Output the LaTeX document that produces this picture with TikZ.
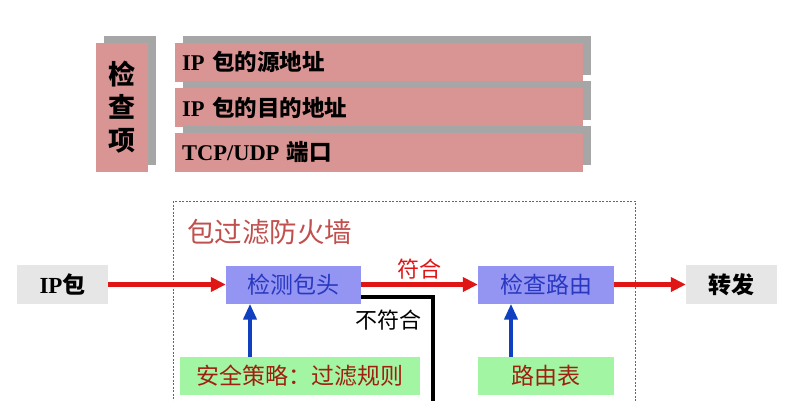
\documentclass[tikz,border=0pt]{standalone}
\usepackage{fontspec}
\setmainfont{Liberation Serif}
\newfontfamily\cjk{Noto Sans CJK SC}
\usetikzlibrary{arrows.meta,shadows}
\definecolor{pinkbox}{HTML}{D99594}
\definecolor{shadowgray}{HTML}{A6A6A6}
\definecolor{bluebox}{HTML}{9494F2}
\definecolor{greenbox}{HTML}{A2F5A2}
\definecolor{graybox}{HTML}{E6E6E6}
\definecolor{arrred}{HTML}{E01515}
\definecolor{arrblue}{HTML}{1040C0}
\definecolor{titlered}{HTML}{C0504D}
\definecolor{bluetext}{HTML}{2838C0}
\definecolor{darkred}{HTML}{A02010}
\tikzset{
  shbox/.style={fill=pinkbox, draw=none, drop shadow={shadow xshift=8pt, shadow yshift=7pt, fill=shadowgray, opacity=1}},
  rowbox/.style={shbox, minimum height=39pt, text width=394pt, inner xsep=7pt, align=left, anchor=center, font=\bfseries\fontsize{22.5}{24}\selectfont},
  procbox/.style={fill=bluebox, minimum height=38pt, inner sep=0pt, text=bluetext, font=\cjk\fontsize{23}{25}\selectfont},
  tblbox/.style={fill=greenbox, minimum height=38pt, inner sep=0pt, text=darkred, font=\cjk\fontsize{23}{25}\selectfont},
  endbox/.style={fill=graybox, minimum height=39pt, minimum width=91pt, inner sep=0pt, font=\fontsize{23}{25}\selectfont},
  redarrow/.style={draw=arrred, line width=4.5pt, -{Triangle[length=15pt,width=14pt]}},
  bluearrow/.style={draw=arrblue, line width=4pt, -{Triangle[length=16pt,width=13pt]}},
}
\begin{document}
\begin{tikzpicture}[x=1pt,y=-1pt]
\useasboundingbox (0,0) rectangle (795,400);
\clip (0,0) rectangle (795,400);
\fill[white] (0,0) rectangle (795,400);
% top block
\node[shbox, minimum width=52pt, minimum height=129pt, inner sep=0pt, align=center,
      font=\cjk\bfseries\fontsize{27}{33}\selectfont] (chk) at (122,107.5) {检\\查\\项};
\node[rowbox] (r1) at (379,62) {IP {\cjk 包的源地址}};
\node[rowbox] (r2) at (379,107.5) {IP {\cjk 包的目的地址}};
\node[rowbox] (r3) at (379,152.5) {TCP/UDP {\cjk 端口}};
% firewall frame
\draw[draw=gray!80!black, line width=0.8pt, dash pattern=on 2pt off 1.5pt] (173,201) rectangle (635,420);
\node[anchor=west, inner sep=0pt, text=titlered, font=\cjk\fontsize{27.5}{30}\selectfont] (title) at (187,232) {包过滤防火墙};
% nodes
\node[endbox] (ip) at (62.5,284.5) {\bfseries IP{\cjk 包}};
\node[procbox, minimum width=135pt] (det) at (293.5,284.5) {检测包头};
\node[procbox, minimum width=136pt] (rt) at (546,284.5) {检查路由};
\node[endbox] (fw) at (731.5,284.5) {\cjk\bfseries 转发};
\node[tblbox, minimum width=240pt] (sec) at (300,376) {安全策略：过滤规则};
\node[tblbox, minimum width=136pt] (tbl) at (546,376) {路由表};
% connectors
\draw[redarrow] (ip.east) -- (det.west);
\draw[redarrow] (det.east) -- node[above=0pt, text=arrred, font=\cjk\fontsize{22}{24}\selectfont] (ok) {符合} (rt.west);
\draw[redarrow] (rt.east) -- (fw.west);
\coordinate (rejend) at (433,420);
\draw[line width=4pt, draw=black] ([yshift=-12pt]det.east) -| (rejend);
\node[font=\cjk\fontsize{22}{24}\selectfont] (nok) at (388,320) {不符合};
\coordinate (secup) at (250,357);
\coordinate (tblup) at (511,357);
\draw[bluearrow] (secup) -- (secup |- det.south);
\draw[bluearrow] (tblup) -- (tblup |- rt.south);
\end{tikzpicture}
\end{document}
